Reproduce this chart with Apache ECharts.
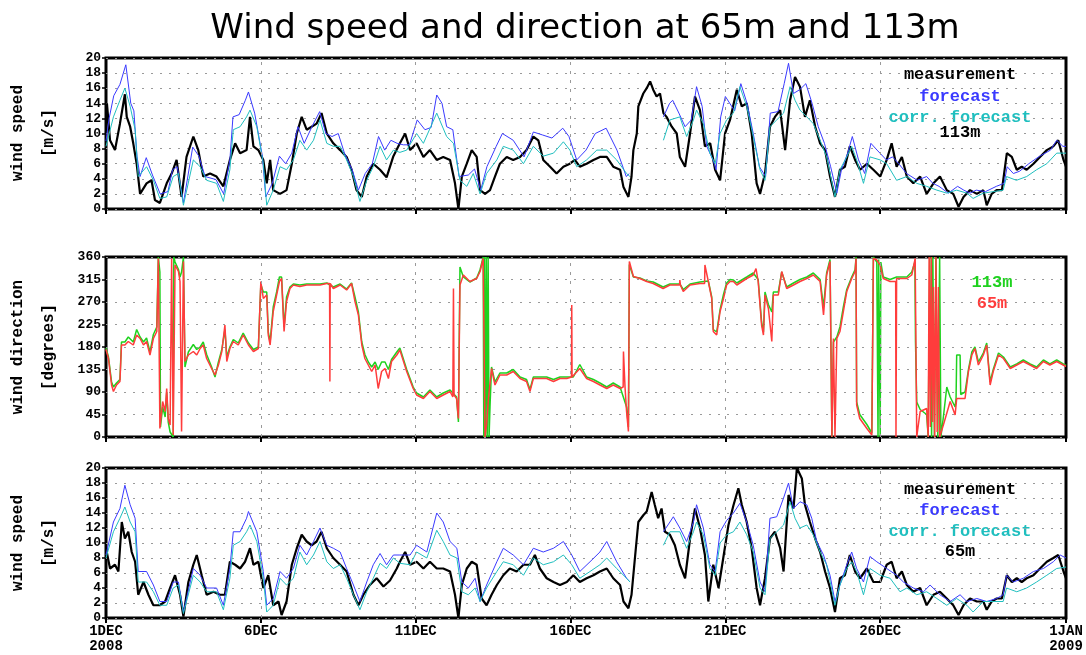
<!DOCTYPE html>
<html><head><meta charset="utf-8">
<script src="https://cdn.jsdelivr.net/npm/echarts@6/dist/echarts.min.js"></script>
<style>html,body{margin:0;padding:0;background:#fff}#c{width:1086px;height:655px}</style>
</head><body><div id="c"></div>
<script>
// time values are days since 1 DEC 2008 00:00
var tickDays = [0, 5, 10, 15, 20, 25, 31];
var tickLabels = ['1DEC\n2008', '6DEC', '11DEC', '16DEC', '21DEC', '26DEC', '1JAN\n2009'];
var speedTicks = [0, 2, 4, 6, 8, 10, 12, 14, 16, 18, 20];
var dirTicks = [0, 45, 90, 135, 180, 225, 270, 315, 360];

// ---- 113 m wind speed [m/s] ----
var meas113 = [[0,10],[0.03,14],[0.13,9.1],[0.29,7.8],[0.45,11.3],[0.61,15.2],[0.67,12.2],[0.78,10.9],[0.88,8.7],[0.99,6],[1.1,2],[1.31,3.4],[1.47,3.8],[1.58,1.2],[1.74,0.8],[1.96,3.4],[2.12,4.7],[2.28,6.5],[2.44,1.6],[2.6,6.9],[2.82,9.6],[2.98,7.8],[3.14,4.3],[3.36,4.7],[3.57,4.3],[3.79,3],[4.0,6.5],[4.17,8.7],[4.33,7.4],[4.54,7.8],[4.65,12.2],[4.76,8.3],[4.92,7.8],[5.08,6.5],[5.19,3.4],[5.3,6.5],[5.4,2.5],[5.62,2],[5.83,2.5],[6.0,6],[6.16,10],[6.32,12.2],[6.48,10.5],[6.64,10.9],[6.8,11.3],[6.96,12.7],[7.13,10],[7.34,8.7],[7.56,7.8],[7.77,6.9],[7.93,5.2],[8.09,2.5],[8.26,1.6],[8.42,4.3],[8.63,6],[8.85,5.2],[9.06,4.2],[9.28,7],[9.49,8.7],[9.66,10],[9.82,7.8],[10.03,8.7],[10.25,6.9],[10.46,7.8],[10.68,6.5],[10.89,6.9],[11.11,6.5],[11.27,3.4],[11.38,0],[11.49,4.3],[11.65,6],[11.81,7.8],[11.97,6.9],[12.08,2.5],[12.24,2],[12.4,2.5],[12.56,4.3],[12.72,6],[12.94,6.9],[13.15,6.5],[13.37,6.9],[13.58,7.8],[13.8,9.6],[13.96,9.1],[14.12,6.5],[14.34,5.6],[14.55,4.7],[14.77,5.6],[14.98,6],[15.14,6.5],[15.3,5.6],[15.52,6],[15.74,6.5],[15.95,6.9],[16.17,6.9],[16.38,5.6],[16.6,5.2],[16.71,2.9],[16.87,1.6],[16.97,4.3],[17.03,7.8],[17.14,10],[17.19,13.6],[17.35,15.3],[17.46,16],[17.57,16.9],[17.67,15.8],[17.78,14.9],[17.89,15.3],[18.0,12.7],[18.1,12.2],[18.27,10.9],[18.43,10],[18.53,6.9],[18.7,5.6],[18.86,10],[19.02,14.9],[19.18,13.1],[19.34,8.3],[19.51,8.7],[19.67,5.2],[19.83,3.8],[19.99,10],[20.15,11.8],[20.37,15.8],[20.53,13.6],[20.69,14],[20.85,10],[21.01,3.4],[21.12,2],[21.28,4.7],[21.44,10.9],[21.6,12.2],[21.77,13.1],[21.93,7.8],[22.09,14.4],[22.25,17.5],[22.41,16.2],[22.57,12.2],[22.73,14.4],[22.9,10.9],[23.06,8.7],[23.22,7.8],[23.38,4.3],[23.54,1.6],[23.7,5.2],[23.86,5.6],[24.02,8.3],[24.19,6.5],[24.35,5.2],[24.57,6],[24.78,5.2],[25.0,4.3],[25.21,6.5],[25.37,8.7],[25.53,5.6],[25.7,6.9],[25.86,4.3],[26.07,3.4],[26.29,4.3],[26.5,2],[26.72,3.4],[26.93,4.3],[27.15,2.5],[27.36,2],[27.53,0.3],[27.69,1.6],[27.9,2.5],[28.12,2],[28.33,2.5],[28.44,0.5],[28.6,2],[28.76,2.5],[28.93,2.5],[29.09,7.4],[29.25,6.9],[29.41,5.2],[29.57,5.6],[29.73,5.2],[29.95,6],[30.16,6.9],[30.38,7.8],[30.59,8.3],[30.75,9.1],[30.92,6.5],[31,5.6]];
var fc113 = [[0,9],[0.1,12],[0.25,15],[0.45,16.5],[0.64,19.1],[0.8,14],[0.9,13],[1.0,7],[1.1,4.3],[1.3,6.8],[1.5,4.5],[1.75,2],[2.0,2.3],[2.15,5.2],[2.3,5.6],[2.5,0.8],[2.8,8.2],[3.0,7],[3.2,4.3],[3.55,3.9],[3.8,2],[4.0,6.5],[4.1,12.2],[4.3,12.5],[4.5,14.4],[4.6,15.5],[4.8,12.7],[5.05,7],[5.16,1.6],[5.37,3.4],[5.6,7],[5.8,6],[6.0,7.4],[6.2,10.9],[6.4,8.7],[6.65,10.9],[6.9,12.9],[7.1,10],[7.3,9.6],[7.5,10],[7.7,7.4],[7.95,5.2],[8.15,2.5],[8.37,4.7],[8.6,6],[8.8,9.6],[9.0,7.8],[9.2,9.1],[9.4,8.7],[9.6,8.5],[9.8,8.5],[10.05,11.8],[10.3,10.5],[10.5,10.8],[10.68,15.1],[10.85,14],[11.0,10.9],[11.2,10.5],[11.4,4.3],[11.7,4.5],[11.9,5.3],[12.1,2.5],[12.3,5.6],[12.6,8.3],[12.8,10],[13.15,9.1],[13.5,6.9],[13.8,10.2],[14.1,9.8],[14.4,9.4],[14.75,10.7],[14.95,9.6],[15.2,6.5],[15.5,7.8],[15.8,10],[16.15,10.7],[16.5,7.8],[16.8,4.3],[16.9,4.7],[17.4,null],[18.0,12.2],[18.2,14],[18.3,14.4],[18.5,12.7],[18.7,10.9],[18.9,11.8],[19.07,16.2],[19.25,13.6],[19.4,8.3],[19.6,6.5],[19.7,5.2],[19.85,12.2],[20.0,14.9],[20.3,13],[20.5,16.6],[20.7,14],[20.9,10],[21.1,5.6],[21.3,4.3],[21.45,12.7],[21.7,12.9],[21.9,16.6],[22.04,19.3],[22.2,15.3],[22.4,15.8],[22.6,16.6],[22.8,14],[23.0,10.9],[23.2,8.7],[23.4,5.6],[23.6,2.1],[23.75,5.2],[23.95,7.4],[24.1,9.6],[24.3,6.5],[24.5,4.7],[24.7,8.7],[24.9,7.8],[25.2,6.5],[25.4,6.9],[25.6,6],[25.85,4.7],[26.2,3.8],[26.5,4.3],[26.7,3.4],[26.9,3],[27.2,2.1],[27.5,3],[27.7,2.5],[27.9,2.1],[28.1,2.5],[28.4,2.3],[28.75,3],[29.0,3.4],[29.1,5.6],[29.3,4.7],[29.5,5],[29.8,6],[30.15,7],[30.5,7.8],[30.7,9.1],[30.9,8.3],[31,8.3]];
var cf113 = [[0,8.3],[0.24,12.2],[0.45,14.4],[0.61,16],[0.78,13.6],[0.94,10.5],[1.04,4.3],[1.31,5.6],[1.53,3.8],[1.74,1.4],[1.96,1.6],[2.17,4.3],[2.34,4.7],[2.5,0.5],[2.82,6.5],[3.04,5.6],[3.25,3.8],[3.57,3.4],[3.79,1],[4.0,5.2],[4.11,10.5],[4.33,10.9],[4.54,12.2],[4.65,13.1],[4.87,10.9],[5.08,6],[5.19,0.5],[5.4,2.5],[5.62,5.6],[5.83,5.2],[6.05,6.5],[6.26,9.1],[6.48,7.8],[6.7,9.1],[6.91,11.8],[7.13,8.7],[7.34,8.3],[7.56,8.3],[7.77,6.5],[7.99,4.3],[8.2,1],[8.42,3.8],[8.63,5.6],[8.85,8.3],[9.06,6.5],[9.28,7.8],[9.49,7.5],[9.71,7.8],[10.03,10],[10.25,8.7],[10.68,12.7],[11.0,9.6],[11.22,8.7],[11.43,3.8],[11.65,3],[11.86,4.7],[12.08,2],[12.29,4.7],[12.62,6.5],[12.83,8.3],[13.15,7.8],[13.48,6],[13.8,8.3],[14.12,7],[14.45,7.4],[14.77,8.9],[14.98,7.8],[15.2,5.6],[15.52,6.5],[15.85,7.8],[16.17,7.8],[16.49,6.5],[16.81,4.7],[16.92,4.3],[17.4,null],[18.0,9.1],[18.21,11.8],[18.53,12.2],[18.75,9.6],[18.97,11.8],[19.07,13.1],[19.29,11.3],[19.5,7.4],[19.67,6],[19.83,10],[20.04,11.8],[20.26,12.7],[20.47,16.2],[20.69,13.6],[20.9,9.6],[21.12,5.2],[21.28,3.8],[21.44,10.9],[21.66,11.8],[21.88,12.7],[22.09,16.2],[22.25,14.4],[22.41,13.1],[22.63,12.2],[22.84,11.3],[23.06,9.1],[23.27,6.9],[23.54,1.6],[23.7,5.2],[23.92,6.9],[24.08,8.3],[24.24,6.5],[24.46,3.4],[24.67,6.9],[25.0,6.5],[25.21,6],[25.53,3.8],[25.86,4.3],[26.18,3.4],[26.5,3],[26.83,2.5],[27.15,2.1],[27.47,2.5],[27.8,2.1],[28.0,1.4],[28.33,2.1],[28.65,2.3],[28.97,2.5],[29.08,4.3],[29.4,3.8],[29.73,4.3],[30.05,5.2],[30.38,6],[30.7,7.4],[31,7.4]];

// ---- wind direction [degrees] ----
var dir113 = [[0,178],[0.08,160],[0.18,110],[0.24,100],[0.34,108],[0.45,115],[0.5,190],[0.61,190],[0.72,200],[0.88,190],[0.99,215],[1.1,200],[1.21,190],[1.31,198],[1.42,170],[1.53,205],[1.64,220],[1.69,360],[1.74,330],[1.76,20],[1.83,60],[1.91,40],[1.96,90],[2.01,30],[2.07,10],[2.17,0],[2.19,360],[2.23,350],[2.34,335],[2.39,320],[2.44,330],[2.5,360],[2.55,140],[2.66,170],[2.82,185],[2.93,175],[3.04,180],[3.14,190],[3.25,165],[3.41,140],[3.52,120],[3.63,150],[3.74,175],[3.84,215],[3.9,160],[4.0,180],[4.11,195],[4.27,188],[4.43,208],[4.6,188],[4.76,175],[4.92,180],[5.0,305],[5.08,290],[5.19,290],[5.24,210],[5.3,190],[5.4,260],[5.51,290],[5.6,320],[5.67,320],[5.75,220],[5.83,280],[5.94,300],[6.05,306],[6.26,304],[6.48,306],[6.7,306],[6.91,306],[7.13,308],[7.34,300],[7.56,306],[7.77,296],[7.93,308],[8.04,280],[8.15,250],[8.26,190],[8.36,165],[8.47,150],[8.58,140],[8.69,150],[8.79,135],[8.9,150],[9.01,150],[9.12,135],[9.22,155],[9.39,170],[9.49,178],[9.71,135],[9.92,100],[10.03,88],[10.25,80],[10.46,94],[10.68,80],[10.89,88],[11.11,94],[11.32,80],[11.38,30],[11.43,340],[11.54,320],[11.75,310],[11.97,318],[12.08,335],[12.18,360],[12.2,0],[12.22,360],[12.25,0],[12.28,360],[12.31,0],[12.34,360],[12.37,0],[12.4,60],[12.45,140],[12.56,110],[12.72,128],[12.94,128],[13.15,135],[13.37,120],[13.58,115],[13.69,95],[13.8,120],[14.01,120],[14.23,120],[14.45,115],[14.66,120],[14.88,120],[15.09,120],[15.3,145],[15.52,120],[15.74,115],[15.95,108],[16.17,100],[16.38,108],[16.6,100],[16.81,60],[16.87,20],[16.9,345],[17.03,320],[17.24,318],[17.46,312],[17.67,310],[17.99,300],[18.21,306],[18.53,306],[18.64,295],[18.86,306],[19.18,310],[19.45,312],[19.56,280],[19.61,215],[19.72,210],[19.83,255],[19.94,285],[20.04,308],[20.15,315],[20.26,314],[20.37,308],[20.69,320],[20.9,328],[21.06,315],[21.17,230],[21.23,210],[21.28,290],[21.39,265],[21.5,250],[21.55,290],[21.71,290],[21.82,330],[21.98,300],[22.2,308],[22.41,315],[22.63,320],[22.84,328],[23.06,315],[23.17,260],[23.27,328],[23.38,355],[23.44,0],[23.49,190],[23.6,200],[23.7,220],[23.81,260],[23.92,295],[24.08,320],[24.19,335],[24.22,360],[24.24,70],[24.34,45],[24.57,25],[24.73,8],[24.78,360],[24.89,350],[24.93,0],[24.95,355],[25.0,0],[25.02,350],[25.1,320],[25.32,315],[25.53,320],[25.86,320],[26.02,330],[26.12,350],[26.14,190],[26.18,70],[26.29,55],[26.5,45],[26.55,0],[26.6,360],[26.66,0],[26.7,360],[26.75,0],[26.8,360],[26.86,0],[26.92,360],[26.96,0],[27.04,40],[27.15,100],[27.26,80],[27.42,60],[27.45,77],[27.47,164],[27.58,164],[27.6,85],[27.74,90],[27.85,135],[27.96,170],[28.06,180],[28.17,150],[28.33,168],[28.44,188],[28.55,110],[28.65,135],[28.82,168],[28.98,160],[29.2,140],[29.41,146],[29.62,154],[29.84,146],[30.05,140],[30.27,154],[30.48,146],[30.7,154],[30.91,146],[31,143]];
var dir65 = [[0,175],[0.08,157],[0.18,104],[0.24,91],[0.34,104],[0.45,111],[0.5,184],[0.61,184],[0.72,191],[0.88,184],[0.99,204],[1.1,197],[1.21,184],[1.31,191],[1.42,164],[1.53,197],[1.64,211],[1.69,357],[1.74,17],[1.83,71],[1.91,51],[1.96,97],[2.01,37],[2.07,24],[2.12,357],[2.17,4],[2.23,344],[2.34,331],[2.39,311],[2.44,11],[2.5,351],[2.55,151],[2.66,164],[2.82,171],[2.93,164],[3.04,177],[3.14,184],[3.25,157],[3.41,137],[3.52,124],[3.63,144],[3.74,171],[3.84,224],[3.9,151],[4.0,177],[4.11,191],[4.27,184],[4.43,204],[4.6,184],[4.76,171],[4.92,177],[5.0,311],[5.08,277],[5.19,284],[5.24,204],[5.3,184],[5.4,251],[5.51,284],[5.6,311],[5.67,317],[5.75,211],[5.83,271],[5.94,297],[6.05,304],[6.26,301],[6.48,304],[6.7,304],[6.91,304],[7.13,307],[7.22,307],[7.23,111],[7.24,307],[7.34,297],[7.56,304],[7.77,294],[7.93,307],[8.04,271],[8.15,244],[8.26,184],[8.36,157],[8.47,144],[8.58,131],[8.69,144],[8.79,97],[8.9,131],[9.01,137],[9.12,117],[9.22,151],[9.39,164],[9.49,174],[9.71,131],[9.92,97],[10.03,84],[10.25,77],[10.46,91],[10.68,77],[10.89,84],[11.11,91],[11.2,80],[11.22,297],[11.24,84],[11.32,77],[11.38,37],[11.43,304],[11.54,324],[11.75,311],[11.97,317],[12.08,331],[12.18,357],[12.24,0],[12.29,24],[12.35,77],[12.45,137],[12.56,104],[12.72,124],[12.94,124],[13.15,131],[13.37,117],[13.58,111],[13.69,91],[13.8,117],[14.01,117],[14.23,117],[14.45,111],[14.66,117],[14.88,117],[15.03,120],[15.04,264],[15.05,120],[15.09,117],[15.3,137],[15.52,117],[15.74,111],[15.95,104],[16.17,97],[16.38,104],[16.6,97],[16.7,100],[16.71,171],[16.76,100],[16.81,51],[16.87,11],[16.9,351],[17.03,321],[17.24,317],[17.46,311],[17.67,307],[17.99,297],[18.21,304],[18.52,304],[18.53,314],[18.55,304],[18.64,291],[18.86,304],[19.18,307],[19.33,307],[19.34,344],[19.45,311],[19.56,277],[19.61,211],[19.72,204],[19.83,251],[19.94,277],[20.04,304],[20.15,311],[20.26,311],[20.37,304],[20.69,317],[20.9,324],[20.99,337],[21.06,311],[21.17,224],[21.23,204],[21.28,284],[21.39,257],[21.5,191],[21.55,284],[21.71,284],[21.82,331],[21.98,297],[22.2,304],[22.41,311],[22.63,317],[22.84,324],[23.06,311],[23.17,244],[23.27,324],[23.38,351],[23.44,0],[23.49,197],[23.54,0],[23.6,197],[23.7,211],[23.81,251],[23.92,291],[24.08,317],[24.19,331],[24.22,357],[24.24,64],[24.34,37],[24.57,17],[24.73,4],[24.78,357],[24.89,354],[25.0,344],[25.1,317],[25.32,311],[25.5,311],[25.51,0],[25.53,317],[25.86,317],[26.02,324],[26.13,357],[26.18,0],[26.29,51],[26.5,57],[26.55,0],[26.58,360],[26.62,20],[26.65,360],[26.69,30],[26.72,300],[26.76,0],[26.8,360],[26.84,10],[26.88,300],[26.92,0],[26.98,4],[27.04,24],[27.26,71],[27.42,44],[27.47,77],[27.74,77],[27.85,131],[27.96,164],[28.06,177],[28.17,144],[28.33,164],[28.44,184],[28.55,104],[28.65,131],[28.82,164],[28.98,157],[29.2,137],[29.41,144],[29.62,151],[29.84,144],[30.05,137],[30.27,151],[30.48,144],[30.7,151],[30.91,144],[31,141]];

// ---- 65 m wind speed [m/s] ----
var meas65 = [[0,9.3],[0.13,6.6],[0.29,7.1],[0.4,6.2],[0.51,12.8],[0.61,10.6],[0.72,11.5],[0.83,8.8],[0.94,7.5],[1.04,3.1],[1.21,4.8],[1.37,3.1],[1.53,1.7],[1.74,1.7],[1.91,2.2],[2.07,4],[2.23,5.7],[2.39,3.1],[2.5,0.2],[2.66,4.8],[2.82,7.1],[2.93,8.4],[3.09,5.7],[3.25,3.1],[3.47,3.5],[3.68,3.1],[3.84,3.1],[4.0,7.5],[4.17,7.1],[4.33,6.6],[4.49,7.5],[4.65,9.3],[4.76,7.1],[4.92,7.5],[5.08,4],[5.24,5.7],[5.4,1.7],[5.57,2.2],[5.67,0.4],[5.83,2.2],[6.0,7.1],[6.16,9.3],[6.32,11.1],[6.48,10.2],[6.64,9.7],[6.8,10.2],[6.96,11.5],[7.13,9.3],[7.34,8],[7.56,7.1],[7.77,6.2],[7.99,3.1],[8.15,1.7],[8.31,3.1],[8.52,4.4],[8.74,5.3],[8.96,4.2],[9.17,5],[9.39,6.6],[9.49,7.5],[9.66,8.8],[9.82,7.1],[10.03,7.5],[10.25,6.6],[10.46,7.5],[10.68,6.6],[10.89,6.6],[11.11,6.2],[11.27,3.1],[11.38,0],[11.49,4.4],[11.65,6.6],[11.81,7.5],[11.97,7.1],[12.13,2.6],[12.29,1.7],[12.45,3.1],[12.62,4.4],[12.83,5.7],[13.04,6.6],[13.26,6.2],[13.48,7.1],[13.69,7.1],[13.85,8.4],[14.01,6.6],[14.23,5.3],[14.45,4.8],[14.66,4.4],[14.88,4.8],[15.09,5.7],[15.3,4.8],[15.52,5.3],[15.74,5.7],[15.95,6.2],[16.17,6.6],[16.38,5.3],[16.6,4.4],[16.71,2.2],[16.87,1.3],[16.97,3.1],[17.08,8],[17.19,12.8],[17.35,13.7],[17.46,14.2],[17.62,16.8],[17.72,15.1],[17.83,13.3],[17.94,14.6],[18.05,11.5],[18.21,11.1],[18.37,9.7],[18.53,7.1],[18.7,5.3],[18.86,10.6],[19.02,14.6],[19.18,12],[19.34,8.4],[19.45,2.2],[19.61,7.1],[19.78,4],[19.94,8.2],[20.1,12.4],[20.26,15],[20.42,17.3],[20.53,15.1],[20.69,12.8],[20.85,9.3],[21.01,4],[21.12,1.7],[21.28,5.3],[21.44,10.6],[21.6,11.5],[21.77,9.3],[21.88,6.2],[22.04,16.4],[22.2,14.6],[22.31,20],[22.47,18.6],[22.57,15.1],[22.73,12.8],[22.9,10.6],[23.06,8.8],[23.22,6.2],[23.38,4],[23.54,0.8],[23.7,5.3],[23.86,5.7],[24.02,8.4],[24.19,6.2],[24.35,5.3],[24.57,6.6],[24.78,4.8],[25.0,4.8],[25.21,7.1],[25.37,7.5],[25.53,5.3],[25.7,6.2],[25.86,4.4],[26.07,3.5],[26.29,4],[26.5,1.7],[26.72,3.1],[26.93,3.5],[27.15,2.6],[27.36,1.7],[27.53,0.4],[27.69,1.7],[27.9,2.6],[28.12,2.2],[28.33,2.2],[28.44,1.1],[28.6,2.2],[28.76,2.6],[28.93,2.6],[29.09,5.7],[29.25,4.8],[29.41,5.3],[29.57,4.8],[29.73,5.3],[29.95,5.7],[30.16,6.6],[30.38,7.5],[30.59,8],[30.75,8.4],[30.92,6.2],[31,5.3]];
var fc65 = [[0,8.4],[0.24,12.8],[0.45,14.6],[0.61,17.7],[0.78,15.1],[0.94,13.3],[1.04,6.2],[1.31,6.2],[1.53,4.4],[1.74,2.2],[1.96,2.2],[2.17,4.8],[2.34,4.8],[2.5,0.8],[2.82,6.6],[3.04,5.7],[3.25,4],[3.57,4],[3.79,1.7],[4.0,6.6],[4.11,11.5],[4.33,11.5],[4.54,13.3],[4.6,14.2],[4.87,11.5],[5.08,6.2],[5.19,1.7],[5.4,2.6],[5.62,6.2],[5.83,5.3],[6.05,6.6],[6.26,9.7],[6.48,8.4],[6.7,10.2],[6.91,12],[7.13,9.7],[7.34,9.3],[7.56,8.8],[7.77,6.6],[7.99,4.4],[8.2,2.2],[8.42,4.8],[8.63,7.1],[8.85,8.6],[9.06,7.1],[9.28,8.4],[9.49,8.4],[9.82,8.4],[10.03,9.7],[10.36,8.8],[10.68,14],[10.89,12.8],[11.11,10.2],[11.33,9.3],[11.49,4.8],[11.7,4],[11.92,5.3],[12.08,2.2],[12.29,4.4],[12.62,7.5],[12.83,9.3],[13.15,8.4],[13.48,7.1],[13.8,9.3],[14.12,8.8],[14.45,9.3],[14.77,10.2],[15.04,8.4],[15.3,6.2],[15.63,7.5],[15.95,8.8],[16.17,10.2],[16.49,7.5],[16.81,5.3],[16.92,4.8],[17.4,null],[18.0,11.5],[18.21,12.8],[18.32,13.5],[18.53,12],[18.75,10.2],[18.97,12.8],[19.07,15.1],[19.29,12],[19.5,7.1],[19.67,6.2],[19.83,11.5],[20.04,13],[20.26,14],[20.47,15.3],[20.69,12.8],[20.9,9.7],[21.12,4.8],[21.28,3.5],[21.44,13.3],[21.66,13.5],[21.88,16],[22.04,18],[22.2,14.6],[22.41,15.5],[22.63,15.1],[22.79,13.3],[22.95,10.2],[23.17,8.4],[23.38,5.7],[23.54,2.2],[23.7,4.4],[23.92,7.1],[24.08,8.8],[24.24,6.6],[24.46,4.8],[24.67,8.2],[24.89,7.5],[25.21,6.6],[25.53,5.7],[25.75,4.8],[26.07,4],[26.4,3.5],[26.61,4.4],[26.93,3.1],[27.26,2.2],[27.58,3.1],[27.8,2.2],[28.12,2.6],[28.44,2.2],[28.76,2.6],[28.97,3.1],[29.08,5.7],[29.3,4.8],[29.62,5.3],[29.95,6.2],[30.27,6.6],[30.59,7.5],[30.81,8.4],[31,8]];
var cf65 = [[0,8],[0.24,11.5],[0.45,13.3],[0.61,14.8],[0.78,12.8],[0.94,11.5],[1.04,4.8],[1.31,4.8],[1.53,3.5],[1.74,1.7],[1.96,1.7],[2.17,4],[2.34,4.4],[2.5,0.6],[2.82,5.7],[3.04,4.8],[3.25,3.5],[3.57,3.5],[3.79,1.1],[4.0,5.3],[4.11,9.7],[4.33,10.2],[4.54,11.5],[4.65,12.4],[4.87,10.2],[5.08,5.3],[5.19,0.8],[5.4,1.7],[5.62,5.3],[5.83,4.4],[6.05,5.3],[6.26,8.8],[6.48,7.1],[6.7,8.4],[6.91,10.2],[7.13,7.5],[7.34,6.6],[7.56,7.1],[7.77,5.3],[7.99,3.1],[8.2,1.1],[8.42,3.5],[8.63,5.3],[8.85,7.3],[9.06,6.6],[9.28,8],[9.49,7.3],[9.82,7.1],[10.03,8.8],[10.36,8],[10.68,11.7],[10.89,10.2],[11.11,8.4],[11.33,8],[11.49,3.5],[11.7,3.1],[11.92,4],[12.08,2.2],[12.29,4],[12.62,6.2],[12.83,7.5],[13.15,7.1],[13.48,5.7],[13.8,8],[14.12,7.1],[14.45,7.5],[14.77,8.4],[15.04,7.1],[15.3,5.3],[15.63,6.2],[15.95,7.1],[16.17,8],[16.49,6.6],[16.81,5.3],[16.92,4.8],[17.4,null],[18.0,9.7],[18.21,11.5],[18.53,11.5],[18.75,9.3],[18.97,11.5],[19.07,12.8],[19.29,11.1],[19.5,6.6],[19.67,5.7],[19.83,10],[20.04,11.1],[20.26,11.5],[20.47,12.8],[20.69,11.1],[20.9,8.8],[21.12,4],[21.28,3.1],[21.44,10.6],[21.66,11.5],[21.88,12.4],[22.09,15.5],[22.25,13.3],[22.41,12],[22.63,12.4],[22.84,11.1],[23.06,8.8],[23.27,7.1],[23.54,1.7],[23.7,4.4],[23.92,6.6],[24.08,7.5],[24.24,6.2],[24.46,3.1],[24.67,6.6],[25.0,5.7],[25.32,5.3],[25.64,3.5],[25.86,4],[26.18,3.1],[26.5,3.5],[26.83,2.6],[27.15,1.7],[27.47,2.6],[27.8,1.7],[28.0,0.8],[28.33,2.2],[28.65,2.2],[28.97,2.2],[29.08,4],[29.41,3.5],[29.73,4],[30.05,4.8],[30.38,5.7],[30.7,6.6],[31,6.8]];

var C_MEAS = '#000000', C_FC = '#3a3aff', C_CF = '#1fbfbf', C_G = '#1ed21e', C_R = '#ff3c3c';
var MONO = '"Liberation Mono", "DejaVu Sans Mono", monospace';

function clean(d) { return d.map(function (p) { return [p[0], p[1] === null ? '-' : p[1]]; }); }

var grids = [
  { left: 106, right: 20, top: 58, height: 151 },
  { left: 106, right: 20, top: 257, height: 180 },
  { left: 106, right: 20, top: 468, height: 150 }
];

function xAxisFor(i) {
  return {
    type: 'value', gridIndex: i, min: 0, max: 31, interval: 5,
    axisLine: { show: false },
    axisTick: { show: true, customValues: tickDays, length: 5, inside: false, lineStyle: { color: '#000', width: 2 } },
    axisLabel: {
      show: i === 2, customValues: tickDays, margin: 6, color: '#000',
      fontFamily: MONO, fontWeight: 'bold', fontSize: 14, lineHeight: 15,
      formatter: function (v) { var k = tickDays.indexOf(v); return k >= 0 ? tickLabels[k] : ''; }
    },
    splitLine: { show: false }
  };
}
function yAxisFor(i, ticks) {
  var step = ticks[1] - ticks[0];
  return {
    type: 'value', gridIndex: i, min: ticks[0], max: ticks[ticks.length - 1], interval: step,
    axisLine: { show: false },
    axisTick: { show: true, length: 4, lineStyle: { color: '#000', width: 1.5 } },
    axisLabel: { margin: 5, color: '#000', fontFamily: MONO, fontWeight: 'bold', fontSize: 13 },
    splitLine: { show: true, lineStyle: { color: '#9a9a9a', width: 1, type: [2, 7] } }
  };
}
var vGrid = {
  silent: true, symbol: 'none', label: { show: false },
  lineStyle: { color: '#9a9a9a', width: 1, type: [3, 6] },
  data: tickDays.slice(1, -1).map(function (d) { return { xAxis: d }; })
};
function line(name, data, gi, color, w, withGrid) {
  var s = {
    type: 'line', name: name, xAxisIndex: gi, yAxisIndex: gi, data: clean(data),
    showSymbol: false, symbol: 'none', connectNulls: false,
    lineStyle: { color: color, width: w }, itemStyle: { color: color }
  };
  if (withGrid) s.markLine = vGrid;
  return s;
}

function vtext(x, y, t, size) {
  return { type: 'text', x: x, y: y, rotation: Math.PI / 2,
    style: { text: t, fill: '#000', font: 'bold ' + size + 'px ' + MONO, align: 'center', verticalAlign: 'middle' } };
}
function ltext(x, y, t, color) {
  return { type: 'text', x: x, y: y,
    style: { text: t, fill: color, font: 'bold 17px ' + MONO, align: 'center', verticalAlign: 'middle' } };
}

var option = {
  animation: false,
  backgroundColor: '#ffffff',
  grid: grids.map(function (g) { return Object.assign({ show: true, borderColor: '#000', borderWidth: 3, backgroundColor: 'transparent' }, g); }),
  xAxis: [xAxisFor(0), xAxisFor(1), xAxisFor(2)],
  yAxis: [yAxisFor(0, speedTicks), yAxisFor(1, dirTicks), yAxisFor(2, speedTicks)],
  series: [
    line('measurement 113m', meas113, 0, C_MEAS, 2.2, true),
    line('forecast 113m', fc113, 0, C_FC, 1),
    line('corr. forecast 113m', cf113, 0, C_CF, 1),
    line('113m', dir113, 1, C_G, 1.5, true),
    line('65m', dir65, 1, C_R, 1.5),
    line('measurement 65m', meas65, 2, C_MEAS, 2.2, true),
    line('forecast 65m', fc65, 2, C_FC, 1),
    line('corr. forecast 65m', cf65, 2, C_CF, 1)
  ],
  graphic: [
    { type: 'text', x: 585, y: 29, style: { text: 'Wind speed and direction at 65m and 113m', fill: '#000', font: '34px "DejaVu Sans", sans-serif', align: 'center', verticalAlign: 'middle' } },
    vtext(18, 133, 'wind speed', 16), vtext(49, 133, '[m/s]', 16),
    vtext(18, 347, 'wind direction', 16), vtext(49, 347, '[degrees]', 16),
    vtext(18, 543, 'wind speed', 16), vtext(49, 543, '[m/s]', 16),
    ltext(960, 75, 'measurement', C_MEAS), ltext(960, 97, 'forecast', C_FC),
    ltext(960, 118, 'corr. forecast', C_CF), ltext(960, 133, '113m', C_MEAS),
    ltext(992, 283, '113m', C_G), ltext(992, 304, '65m', C_R),
    ltext(960, 490, 'measurement', C_MEAS), ltext(960, 511, 'forecast', C_FC),
    ltext(960, 532, 'corr. forecast', C_CF), ltext(960, 552, '65m', C_MEAS)
  ]
};
var chart = echarts.init(document.getElementById('c'), null, { renderer: 'canvas' });
chart.setOption(option);
</script></body></html>
